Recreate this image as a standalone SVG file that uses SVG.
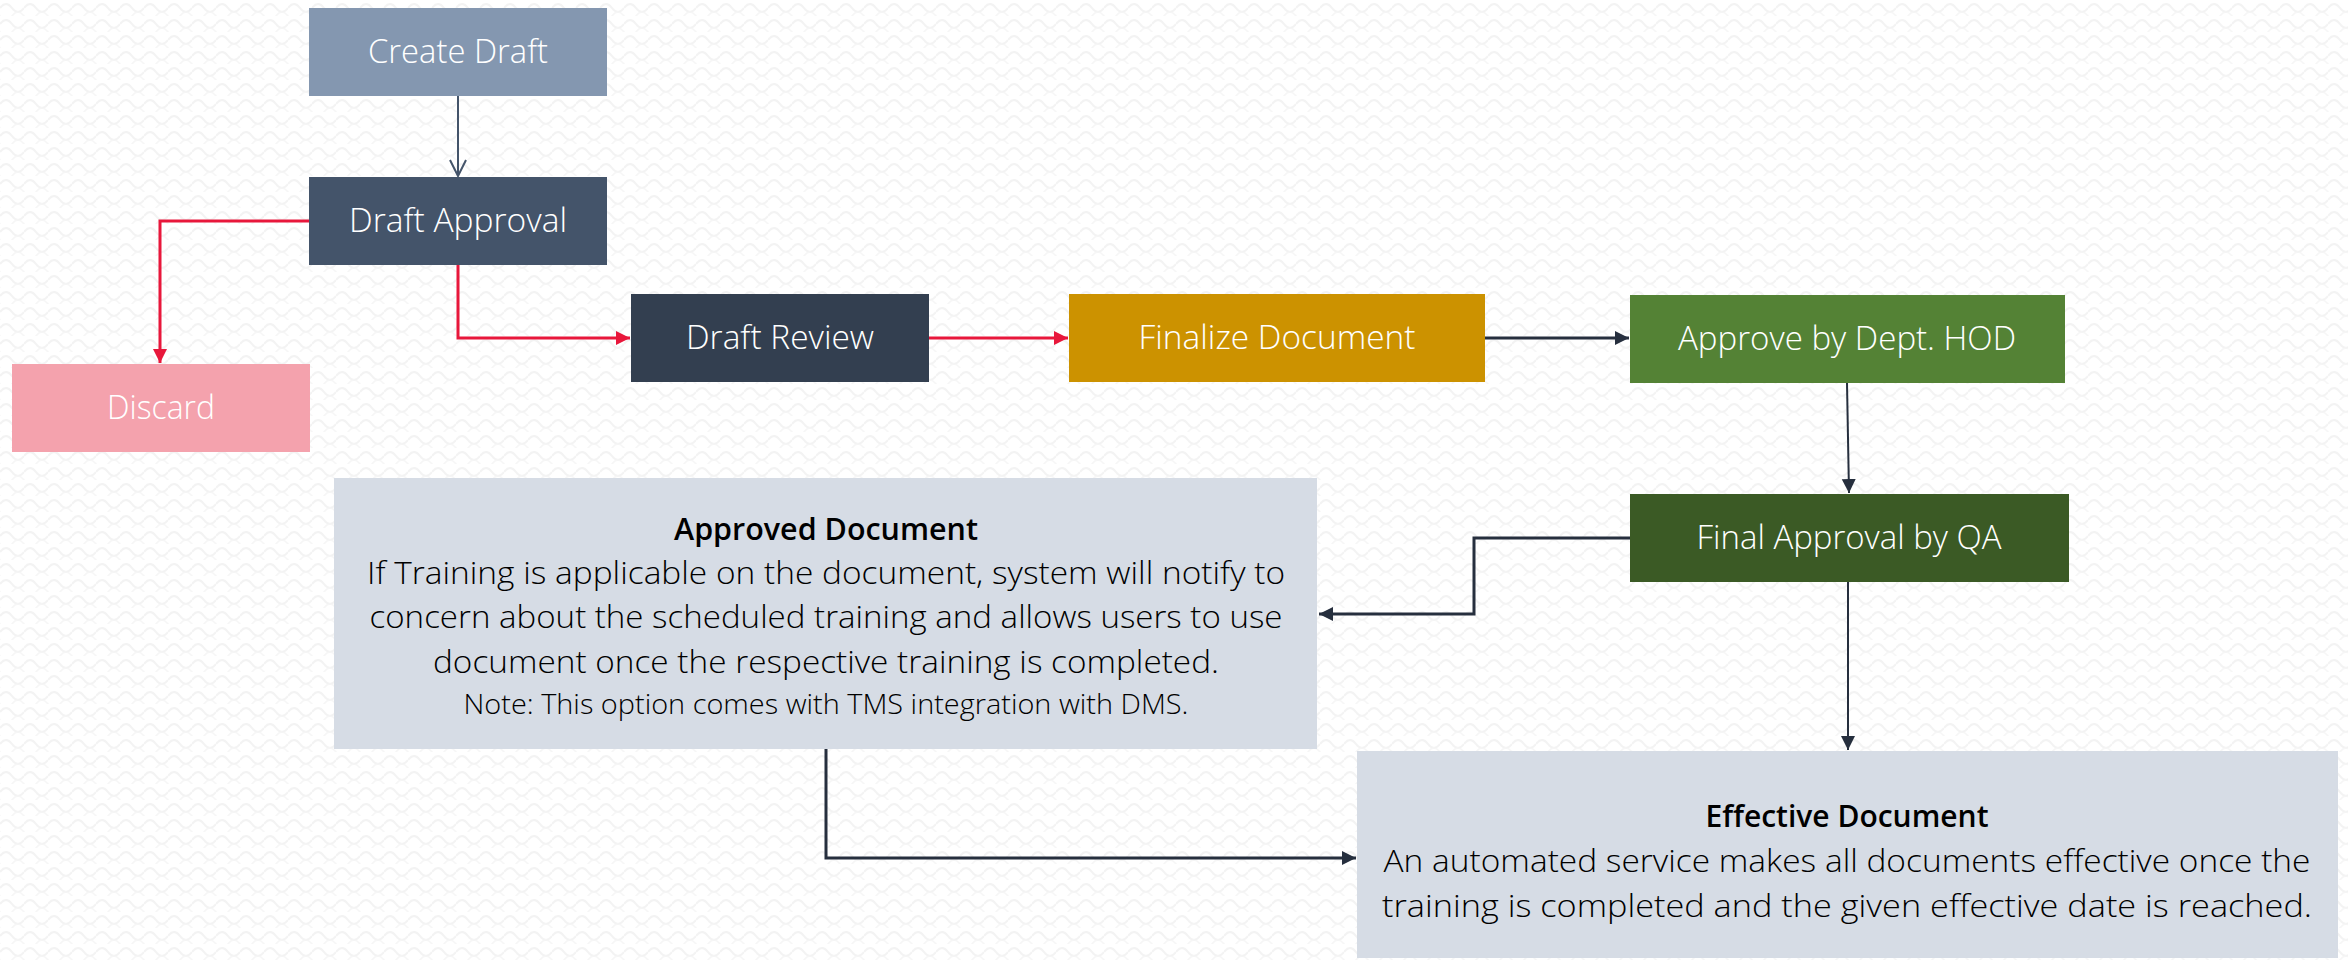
<svg xmlns="http://www.w3.org/2000/svg" width="2348" height="962" viewBox="0 0 2348 962">
<style>
.lbl{font-family:"Open Sans","Liberation Sans",sans-serif;font-weight:300;font-size:33px;fill:#ffffff;text-anchor:middle}
.ttl{font-family:"Open Sans","Liberation Sans",sans-serif;font-weight:600;font-size:30px;fill:#000000;text-anchor:middle}
.body{font-family:"Open Sans","Liberation Sans",sans-serif;font-weight:300;font-size:32px;fill:#000000;text-anchor:middle}
.note{font-family:"Open Sans","Liberation Sans",sans-serif;font-weight:300;font-size:28px;fill:#000000;text-anchor:middle}
.red{fill:none;stroke:#E8173B;stroke-width:3}
.dark{fill:none;stroke:#262F3E;stroke-width:3}
.thin{fill:none;stroke:#262F3E;stroke-width:2}
</style>
<defs>
<pattern id="bg" width="24" height="16" patternUnits="userSpaceOnUse">
<rect width="24" height="16" fill="#ffffff"/>
<path d="M0,8 Q6,0 12,8 T24,8" fill="none" stroke="#f3f3f3" stroke-width="2"/>
<path d="M-12,16 Q-6,8 0,16 T12,16 T24,16 T36,16" fill="none" stroke="#f6f6f6" stroke-width="1.5"/>
</pattern>
<marker id="arRed" markerUnits="userSpaceOnUse" markerWidth="16" markerHeight="16" refX="14" refY="7" orient="auto">
<path d="M0,0 L14,7 L0,14 Z" fill="#E8173B"/>
</marker>
<marker id="arDark" markerUnits="userSpaceOnUse" markerWidth="16" markerHeight="16" refX="14" refY="7" orient="auto">
<path d="M0,0 L14,7 L0,14 Z" fill="#262F3E"/>
</marker>
<marker id="arOpen" markerUnits="userSpaceOnUse" markerWidth="20" markerHeight="20" refX="17" refY="9" orient="auto">
<path d="M1,1 L17,9 L1,17" fill="none" stroke="#44546A" stroke-width="2"/>
</marker>
</defs>
<rect width="2348" height="962" fill="url(#bg)"/>

<g id="connectors">
<path d="M458,96 V176" fill="none" stroke="#44546A" stroke-width="2" marker-end="url(#arOpen)"/>
<path class="red" d="M309,221 H160 V363" marker-end="url(#arRed)"/>
<path class="red" d="M458,265 V338 H630" marker-end="url(#arRed)"/>
<path class="red" d="M929,338 H1068" marker-end="url(#arRed)"/>
<path class="dark" d="M1485,338 H1629" marker-end="url(#arDark)"/>
<path class="thin" d="M1847,383 L1849,493" marker-end="url(#arDark)"/>
<path class="dark" d="M1630,538 H1474 V614 H1319" marker-end="url(#arDark)"/>
<path class="thin" d="M1848,582 V750" marker-end="url(#arDark)"/>
<path class="dark" d="M826,749 V858 H1356" marker-end="url(#arDark)"/>
</g>

<g id="create-draft">
<rect x="309" y="8" width="298" height="88" fill="#8497B0"/>
<text class="lbl" x="458" y="63" textLength="180" lengthAdjust="spacingAndGlyphs">Create Draft</text>
</g>
<g id="draft-approval">
<rect x="309" y="177" width="298" height="88" fill="#44546A"/>
<text class="lbl" x="458" y="232" textLength="218" lengthAdjust="spacingAndGlyphs">Draft Approval</text>
</g>
<g id="discard">
<rect x="12" y="364" width="298" height="88" fill="#F4A2AD"/>
<text class="lbl" x="161" y="419" textLength="108" lengthAdjust="spacingAndGlyphs">Discard</text>
</g>
<g id="draft-review">
<rect x="631" y="294" width="298" height="88" fill="#333F50"/>
<text class="lbl" x="780" y="349" textLength="188" lengthAdjust="spacingAndGlyphs">Draft Review</text>
</g>
<g id="finalize-document">
<rect x="1069" y="294" width="416" height="88" fill="#CC9200"/>
<text class="lbl" x="1277" y="349" textLength="277" lengthAdjust="spacingAndGlyphs">Finalize Document</text>
</g>
<g id="approve-hod">
<rect x="1630" y="295" width="435" height="88" fill="#548235"/>
<text class="lbl" x="1847" y="350" textLength="338" lengthAdjust="spacingAndGlyphs">Approve by Dept. HOD</text>
</g>
<g id="final-approval-qa">
<rect x="1630" y="494" width="439" height="88" fill="#3B5A25"/>
<text class="lbl" x="1849" y="549" textLength="305" lengthAdjust="spacingAndGlyphs">Final Approval by QA</text>
</g>
<g id="approved-document">
<rect x="334" y="478" width="983" height="271" fill="#D6DCE5"/>
<text class="ttl" x="826" y="540" textLength="304" lengthAdjust="spacingAndGlyphs">Approved Document</text>
<text class="body" x="826" y="584" textLength="918" lengthAdjust="spacingAndGlyphs">If Training is applicable on the document, system will notify to</text>
<text class="body" x="826" y="628" textLength="913" lengthAdjust="spacingAndGlyphs">concern about the scheduled training and allows users to use</text>
<text class="body" x="826" y="673" textLength="786" lengthAdjust="spacingAndGlyphs">document once the respective training is completed.</text>
<text class="note" x="826" y="714" textLength="725" lengthAdjust="spacingAndGlyphs">Note: This option comes with TMS integration with DMS.</text>
</g>
<g id="effective-document">
<rect x="1357" y="751" width="981" height="207" fill="#D6DCE5"/>
<text class="ttl" x="1847" y="827" textLength="283" lengthAdjust="spacingAndGlyphs">Effective Document</text>
<text class="body" x="1847" y="872" textLength="927" lengthAdjust="spacingAndGlyphs">An automated service makes all documents effective once the</text>
<text class="body" x="1847" y="917" textLength="930" lengthAdjust="spacingAndGlyphs">training is completed and the given effective date is reached.</text>
</g>
</svg>
